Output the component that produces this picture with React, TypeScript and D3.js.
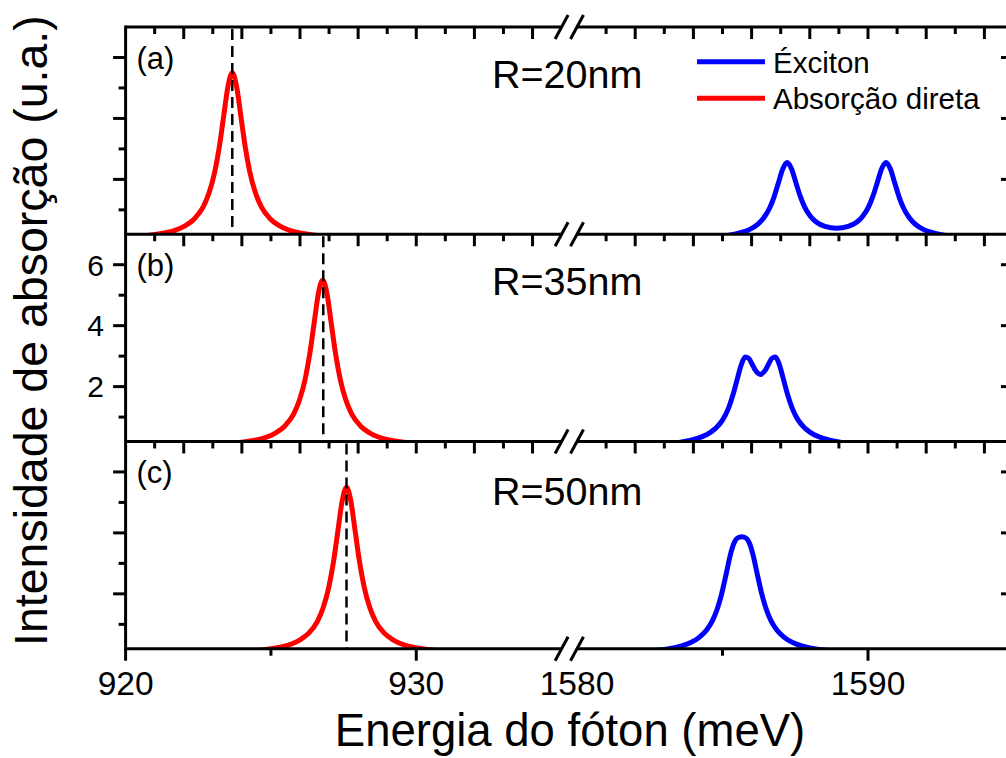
import React from 'react';
import * as d3 from 'd3';

// Broken energy axis: direct-absorption window and exciton window (meV)
const energyLeftDomain = [920, 935];
const energyRightDomain = [1580, 1595];
const intensityDomain = [0.2, 7.0];

const leftTickLabels = [920, 930];
const rightTickLabels = [1580, 1590];
const intensityTickLabels = [2, 4, 6];

const panelTags = ['(a)', '(b)', '(c)'];
const radiusTags = ['R=20nm', 'R=35nm', 'R=50nm'];
const directPeakPositions = [923.67, 926.8, 927.6];

// Direct absorption (red)
const directEnergyA = [919.67, 920.47, 921.07, 921.67, 922.07, 922.37, 922.67, 922.87, 923.07, 923.22, 923.37, 923.52, 923.67, 923.82, 923.97, 924.12, 924.27, 924.47, 924.67, 924.97, 925.27, 925.67, 926.27, 926.87, 927.67];
const directEnergyB = [922.78, 923.58, 924.18, 924.78, 925.18, 925.48, 925.78, 925.98, 926.18, 926.33, 926.48, 926.63, 926.78, 926.93, 927.08, 927.23, 927.38, 927.58, 927.78, 928.08, 928.38, 928.78, 929.38, 929.98, 930.78];
const directEnergyC = [923.6, 924.4, 925.0, 925.6, 926.0, 926.3, 926.6, 926.8, 927.0, 927.15, 927.3, 927.45, 927.6, 927.75, 927.9, 928.05, 928.2, 928.4, 928.6, 928.9, 929.2, 929.6, 930.2, 930.8, 931.6];
const directIntensityA = [0.08, 0.13, 0.2, 0.32, 0.49, 0.71, 1.1, 1.55, 2.26, 3.04, 4.04, 5.04, 5.5, 5.04, 4.04, 3.04, 2.26, 1.55, 1.1, 0.71, 0.49, 0.32, 0.2, 0.13, 0.08];
const directIntensityB = [0.08, 0.13, 0.2, 0.32, 0.49, 0.71, 1.1, 1.55, 2.26, 3.04, 4.04, 5.04, 5.5, 5.04, 4.04, 3.04, 2.26, 1.55, 1.1, 0.71, 0.49, 0.32, 0.2, 0.13, 0.08];
const directIntensityC = [0.08, 0.13, 0.2, 0.32, 0.49, 0.71, 1.1, 1.55, 2.26, 3.04, 4.04, 5.04, 5.5, 5.04, 4.04, 3.04, 2.26, 1.55, 1.1, 0.71, 0.49, 0.32, 0.2, 0.13, 0.08];

// Exciton (blue)
const excitonEnergyA = [1583.22, 1584.02, 1584.62, 1585.22, 1585.62, 1585.92, 1586.22, 1586.42, 1586.62, 1586.77, 1586.92, 1587.07, 1587.22, 1587.37, 1587.52, 1587.67, 1587.82, 1588.02, 1588.22, 1588.52, 1588.92, 1589.32, 1589.62, 1589.82, 1590.02, 1590.17, 1590.32, 1590.47, 1590.62, 1590.77, 1590.92, 1591.07, 1591.22, 1591.42, 1591.62, 1591.92, 1592.22, 1592.62, 1593.22, 1593.82, 1594.62];
const excitonIntensityA = [0.05, 0.07, 0.11, 0.17, 0.25, 0.35, 0.53, 0.74, 1.06, 1.42, 1.88, 2.34, 2.55, 2.35, 1.9, 1.45, 1.1, 0.79, 0.6, 0.46, 0.4, 0.46, 0.6, 0.79, 1.1, 1.45, 1.9, 2.35, 2.55, 2.34, 1.88, 1.42, 1.06, 0.74, 0.53, 0.35, 0.25, 0.17, 0.11, 0.07, 0.05];
const excitonEnergyB = [1581.5, 1582.3, 1583.0, 1583.6, 1584.1, 1584.45, 1584.75, 1585.0, 1585.2, 1585.35, 1585.5, 1585.65, 1585.78, 1585.9, 1586.0, 1586.15, 1586.3, 1586.45, 1586.6, 1586.7, 1586.82, 1586.95, 1587.1, 1587.25, 1587.4, 1587.6, 1587.85, 1588.15, 1588.5, 1589.0, 1589.6, 1590.3, 1591.1];
const excitonIntensityB = [0.06, 0.08, 0.12, 0.18, 0.29, 0.42, 0.62, 0.9, 1.28, 1.7, 2.22, 2.73, 2.97, 2.93, 2.77, 2.51, 2.4, 2.51, 2.77, 2.93, 2.97, 2.73, 2.22, 1.7, 1.28, 0.9, 0.62, 0.42, 0.29, 0.18, 0.12, 0.08, 0.06];
const excitonEnergyC = [1580.86, 1581.66, 1582.46, 1583.06, 1583.56, 1583.91, 1584.21, 1584.46, 1584.66, 1584.81, 1584.96, 1585.11, 1585.26, 1585.39, 1585.51, 1585.66, 1585.81, 1585.93, 1586.06, 1586.21, 1586.36, 1586.51, 1586.66, 1586.86, 1587.11, 1587.41, 1587.76, 1588.26, 1588.86, 1589.66, 1590.46];
const excitonIntensityC = [0.05, 0.08, 0.12, 0.18, 0.28, 0.4, 0.58, 0.82, 1.13, 1.48, 1.96, 2.58, 3.24, 3.65, 3.83, 3.87, 3.83, 3.65, 3.24, 2.58, 1.96, 1.48, 1.13, 0.82, 0.58, 0.4, 0.28, 0.18, 0.12, 0.08, 0.05];

const directSeries = [
  [directEnergyA, directIntensityA],
  [directEnergyB, directIntensityB],
  [directEnergyC, directIntensityC],
];
const excitonSeries = [
  [excitonEnergyA, excitonIntensityA],
  [excitonEnergyB, excitonIntensityB],
  [excitonEnergyC, excitonIntensityC],
];

const FONT = "'Liberation Sans', Arial, Helvetica, sans-serif";
const RED = '#ff0000';
const BLUE = '#0000ff';

const zip = (xs: number[], ys: number[]) => xs.map((x, i) => [x, ys[i]] as [number, number]);

export default function App() {
  const W = 1006;
  const H = 758;
  const left = 125.6;
  const breakL = 561.6;
  const breakR = 577;
  const right = 1013.5;
  const top = 27;
  const bottom = 648.7;
  const ph = (bottom - top) / 3;
  const axisW = 3;

  const xL = d3.scaleLinear().domain(energyLeftDomain).range([left, breakL]);
  const xR = d3.scaleLinear().domain(energyRightDomain).range([breakR, right]);

  const panels = [0, 1, 2].map((i) => {
    const y0 = top + i * ph;
    const y1 = y0 + ph;
    const y = d3.scaleLinear().domain(intensityDomain).range([y1, y0]);
    return { i, y0, y1, y };
  });

  const leftMinorTicks = d3.range(energyLeftDomain[0] + 1, energyLeftDomain[1]);
  const rightMinorTicks = d3.range(energyRightDomain[0] + 1, energyRightDomain[1]);
  const intensityTicks = d3.range(1, 7);

  const bottomLeftTicks = [920, 925, 930];
  const bottomRightTicks = [1585, 1590];

  const hLines = [top, top + ph, top + 2 * ph, bottom];

  return (
    <svg
      width={W}
      height={H}
      style={{ position: 'absolute', left: 0, top: 0, background: '#fff', overflow: 'hidden' }}
      fontFamily={FONT}
    >
      <defs>
        {panels.map((p) => (
          <clipPath id={`clip-${p.i}`} key={p.i}>
            <rect x={left} y={p.y0} width={right - left} height={p.y1 - p.y0} />
          </clipPath>
        ))}
      </defs>

      {panels.map((p) => {
        const lineL = d3
          .line<[number, number]>()
          .x((d) => xL(d[0]))
          .y((d) => p.y(d[1]))
          .curve(d3.curveMonotoneX);
        const lineR = d3
          .line<[number, number]>()
          .x((d) => xR(d[0]))
          .y((d) => p.y(d[1]))
          .curve(d3.curveMonotoneX);
        const [de, di] = directSeries[p.i];
        const [ee, ei] = excitonSeries[p.i];
        const px = xL(directPeakPositions[p.i]);
        return (
          <g key={p.i}>
            <g clipPath={`url(#clip-${p.i})`}>
              <path d={lineL(zip(de, di)) || ''} fill="none" stroke={RED} strokeWidth={5} strokeLinejoin="round" />
              <path d={lineR(zip(ee, ei)) || ''} fill="none" stroke={BLUE} strokeWidth={5} strokeLinejoin="round" />
            </g>
            <line x1={px} x2={px} y1={p.y0 + 2} y2={p.y1} stroke="#000" strokeWidth={2.5} strokeDasharray="11,6" />

            {/* left axis ticks (outward) */}
            {intensityTicks.map((t) => {
              const major = t % 2 === 0;
              const yy = p.y(t);
              return <line key={`l${t}`} x1={left - (major ? 12.5 : 7)} x2={left} y1={yy} y2={yy} stroke="#000" strokeWidth={axisW} />;
            })}
            {/* right axis ticks (inward) */}
            {intensityTicks.map((t) => {
              const major = t % 2 === 0;
              const yy = p.y(t);
              return <line key={`r${t}`} x1={right - (major ? 12.5 : 7)} x2={right} y1={yy} y2={yy} stroke="#000" strokeWidth={axisW} />;
            })}
            {/* top axis ticks (inward) */}
            {leftMinorTicks.map((t) => (
              <line key={`tl${t}`} x1={xL(t)} x2={xL(t)} y1={p.y0} y2={p.y0 + (t % 2 === 0 ? 12 : 7)} stroke="#000" strokeWidth={axisW} />
            ))}
            {rightMinorTicks.map((t) => (
              <line key={`tr${t}`} x1={xR(t)} x2={xR(t)} y1={p.y0} y2={p.y0 + (t % 2 === 0 ? 12 : 7)} stroke="#000" strokeWidth={axisW} />
            ))}

            {p.i === 1 &&
              intensityTickLabels.map((t) => (
                <text key={`yl${t}`} x={104} y={p.y(t)} dy="0.36em" textAnchor="end" fontSize={30} fill="#000">
                  {t}
                </text>
              ))}

            <text x={136.5} y={p.y0 + 41.5} fontSize={31} fill="#000">
              {panelTags[p.i]}
            </text>
            <text x={492} y={p.y0 + (p.i === 2 ? 63.5 : 60.5)} fontSize={39.5} fill="#000">
              {radiusTags[p.i]}
            </text>
          </g>
        );
      })}

      {/* bottom axis ticks (outward) */}
      {bottomLeftTicks.map((t) => (
        <line key={`bl${t}`} x1={xL(t)} x2={xL(t)} y1={bottom} y2={bottom + (t % 10 === 0 ? 12 : 7)} stroke="#000" strokeWidth={axisW} />
      ))}
      {bottomRightTicks.map((t) => (
        <line key={`br${t}`} x1={xR(t)} x2={xR(t)} y1={bottom} y2={bottom + (t % 10 === 0 ? 12 : 7)} stroke="#000" strokeWidth={axisW} />
      ))}

      {/* vertical axis lines */}
      <line x1={left} x2={left} y1={top - 1.5} y2={bottom + 1.5} stroke="#000" strokeWidth={axisW} />
      <line x1={right} x2={right} y1={top - 1.5} y2={bottom + 1.5} stroke="#000" strokeWidth={axisW} />

      {/* horizontal axis lines with breaks */}
      {hLines.map((yy, k) => (
        <g key={`h${k}`}>
          <line x1={left} x2={breakL} y1={yy} y2={yy} stroke="#000" strokeWidth={axisW} />
          <line x1={breakR} x2={right} y1={yy} y2={yy} stroke="#000" strokeWidth={axisW} />
          {[breakL, breakR].map((bx) => (
            <line key={bx} x1={bx - 6.5} x2={bx + 6.5} y1={yy + 12} y2={yy - 12} stroke="#000" strokeWidth={3} />
          ))}
        </g>
      ))}

      {/* x tick labels */}
      {leftTickLabels.map((t) => (
        <text key={`xl${t}`} x={xL(t)} y={695} textAnchor="middle" fontSize={33.5} fill="#000">
          {t}
        </text>
      ))}
      {rightTickLabels.map((t) => (
        <text key={`xr${t}`} x={xR(t)} y={695} textAnchor="middle" fontSize={33.5} fill="#000">
          {t}
        </text>
      ))}

      {/* legend */}
      <line x1={697} x2={765} y1={61.7} y2={61.7} stroke={BLUE} strokeWidth={5} />
      <text x={773} y={72.5} fontSize={29.5} fill="#000">Éxciton</text>
      <line x1={697} x2={765} y1={98.3} y2={98.3} stroke={RED} strokeWidth={5} />
      <text x={773} y={108.5} fontSize={29.5} fill="#000">Absorção direta</text>

      {/* axis titles */}
      <text x={570} y={746} textAnchor="middle" fontSize={45.5} fill="#000">
        Energia do fóton (meV)
      </text>
      <text transform="translate(46.7,646) rotate(-90)" x={0} y={0} fontSize={46.5} fill="#000">
        Intensidade de absorção (u.a.)
      </text>
    </svg>
  );
}
